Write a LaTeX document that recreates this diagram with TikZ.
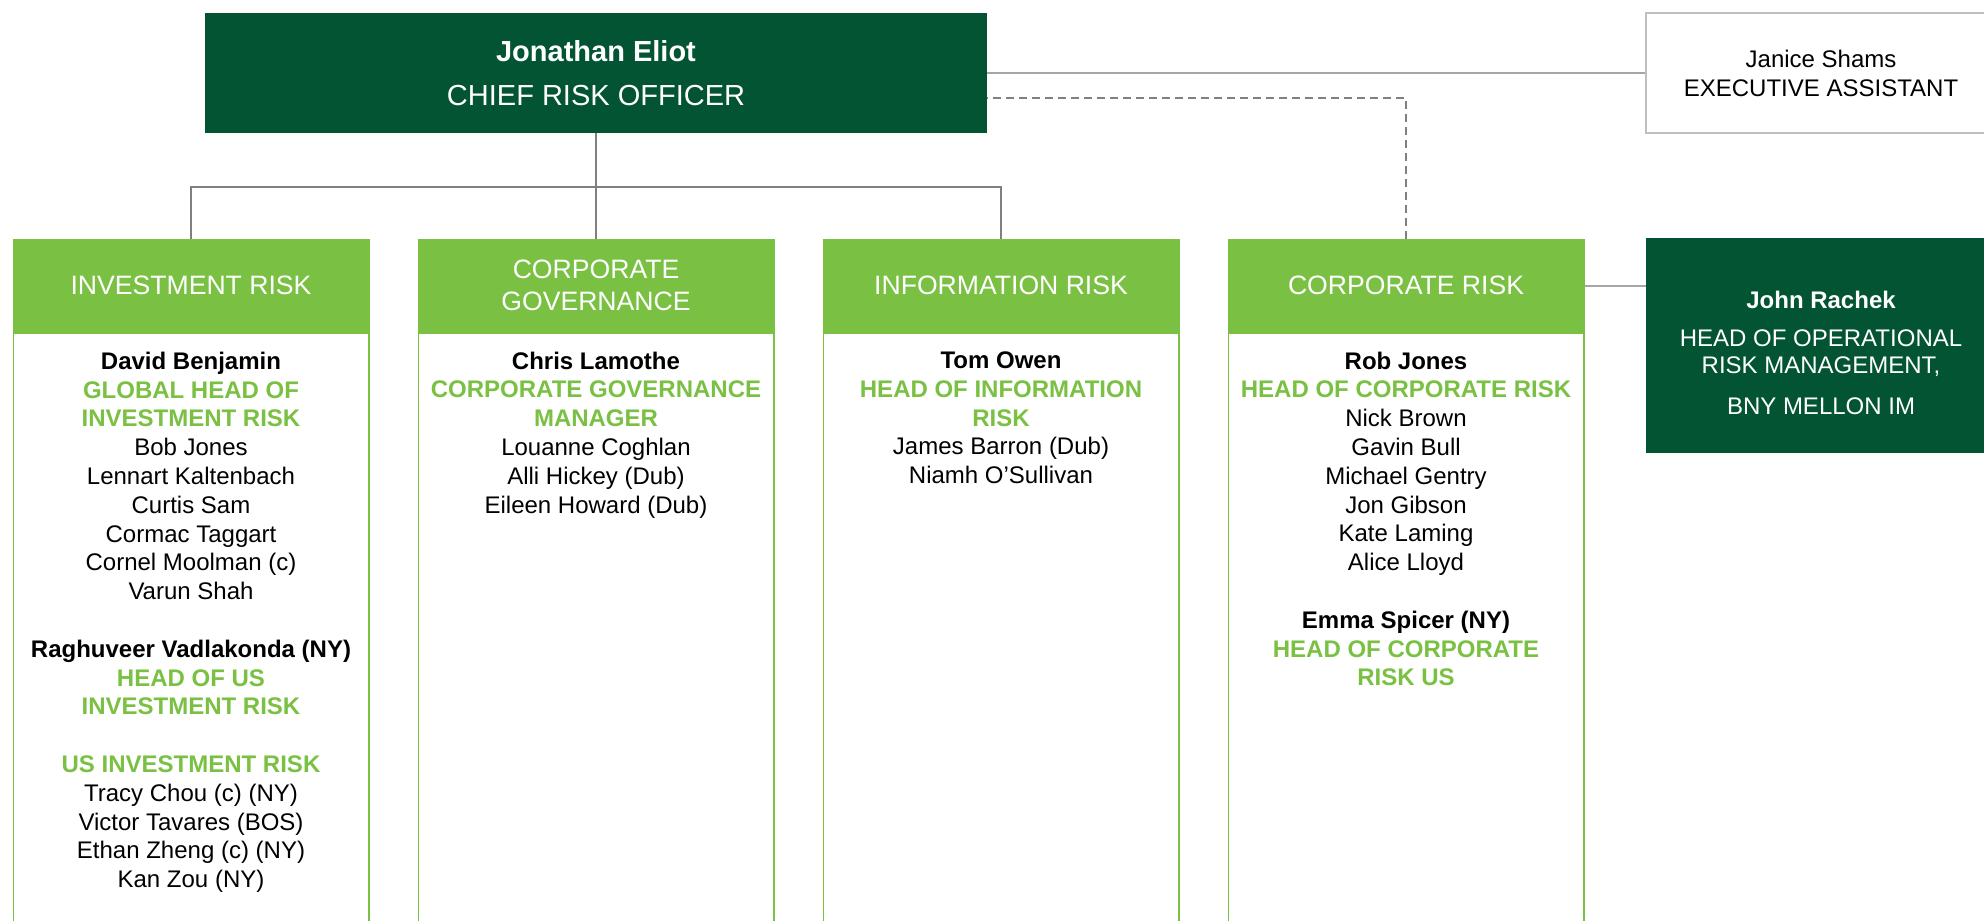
\documentclass[tikz,border=0pt]{standalone}
\usepackage{fontspec}
\setmainfont{Liberation Sans}
\usetikzlibrary{positioning}

\definecolor{darkgreen}{RGB}{2,84,51}
\definecolor{lightgreen}{RGB}{122,193,67}
\definecolor{linegray}{RGB}{128,128,128}
\definecolor{palegray}{RGB}{166,166,166}
\definecolor{boxgray}{RGB}{191,191,191}

\newcommand{\who}[1]{\textbf{#1}}
\newcommand{\roletxt}[1]{{\color{lightgreen}\bfseries #1}}

\begin{document}
\begin{tikzpicture}[x=0.5pt, y=-0.5pt,
    boss/.style={fill=darkgreen, text=white, align=center, inner sep=0pt,
      minimum width=391pt, minimum height=60pt},
    aide/.style={draw=boxgray, line width=1pt, fill=white, align=center, inner sep=0pt,
      minimum width=175pt, minimum height=60pt, font=\fontsize{12}{14.5}\selectfont},
    dept/.style={fill=lightgreen, text=white, align=center, inner sep=0pt,
      minimum width=178.5pt, minimum height=46.5pt, font=\fontsize{13.3}{16}\selectfont},
    col/.style={draw=lightgreen, line width=0.8pt, fill=white, inner sep=0pt,
      minimum width=177.7pt, minimum height=300pt},
    staff/.style={align=center, inner sep=0pt, font=\fontsize{12}{14.4}\selectfont},
    link/.style={draw=linegray, line width=1.2pt},
    side/.style={draw=palegray, line width=1pt}]

      \useasboundingbox (0,0) rectangle (1984,920);

      % top row
      \node[boss, font=\fontsize{14.5}{22}\selectfont] at (596,73) (cro)
        {\textbf{Jonathan Eliot}\\CHIEF RISK OFFICER};
      \node[aide] at (1821,73) (jan) {Janice Shams\\EXECUTIVE ASSISTANT};

      % department headers
      \node[dept] at ( 191,285.5) (inv)  {INVESTMENT RISK};
      \node[dept] at ( 596,285.5) (gov)  {CORPORATE\\GOVERNANCE};
      \node[dept] at (1001,285.5) (info) {INFORMATION RISK};
      \node[dept] at (1406,285.5) (corp) {CORPORATE RISK};

      \node[boss, minimum width=175pt, minimum height=107.5pt] at (1821,345.5) (john) {};
      \node[boss, minimum width=0pt, minimum height=0pt, fill=none,
        font=\fontsize{12}{13.5}\selectfont] at ([yshift=-3.5pt]john.center) (johntxt)
        {\bfseries John Rachek\\[5.5pt]
         HEAD OF OPERATIONAL\\RISK MANAGEMENT,\\[7pt]
         BNY MELLON IM};

      % columns under the headers
      \node[col, below=0pt of inv]  (invbody)  {};
      \node[col, below=0pt of gov]  (govbody)  {};
      \node[col, below=0pt of info] (infobody) {};
      \node[col, below=0pt of corp] (corpbody) {};
      \node[dept] at (inv)  {INVESTMENT RISK};
      \node[dept] at (gov)  {CORPORATE\\GOVERNANCE};
      \node[dept] at (info) {INFORMATION RISK};
      \node[dept] at (corp) {CORPORATE RISK};

      \node[staff, below=9.5pt of inv] (invstaff)
        {\who{David Benjamin}\\
         \roletxt{GLOBAL HEAD OF}\\
         \roletxt{INVESTMENT RISK}\\
         Bob Jones\\
         Lennart Kaltenbach\\
         Curtis Sam\\
         Cormac Taggart\\
         Cornel Moolman (c)\\
         Varun Shah\\[14.4pt]
         \who{Raghuveer Vadlakonda (NY)}\\
         \roletxt{HEAD OF US}\\
         \roletxt{INVESTMENT RISK}\\[14.4pt]
         \roletxt{US INVESTMENT RISK}\\
         Tracy Chou (c) (NY)\\
         Victor Tavares (BOS)\\
         Ethan Zheng (c) (NY)\\
         Kan Zou (NY)};
      \node[staff, below=9.5pt of gov] (govstaff)
        {\who{Chris Lamothe}\\
         \roletxt{CORPORATE GOVERNANCE}\\
         \roletxt{MANAGER}\\
         Louanne Coghlan\\
         Alli Hickey (Dub)\\
         Eileen Howard (Dub)};
      \node[staff, below=9.5pt of info] (infostaff)
        {\who{Tom Owen}\\
         \roletxt{HEAD OF INFORMATION}\\
         \roletxt{RISK}\\
         James Barron (Dub)\\
         Niamh O’Sullivan};
      \node[staff, below=9.5pt of corp] (corpstaff)
        {\who{Rob Jones}\\
         \roletxt{HEAD OF CORPORATE RISK}\\
         Nick Brown\\
         Gavin Bull\\
         Michael Gentry\\
         Jon Gibson\\
         Kate Laming\\
         Alice Lloyd\\[14.4pt]
         \who{Emma Spicer (NY)}\\
         \roletxt{HEAD OF CORPORATE}\\
         \roletxt{RISK US}};

      % reporting lines
      \coordinate (bar) at (596,187);
      \draw[link] (cro.south) -- (gov.north);
      \draw[link] (inv.north) |- (bar) -| (info.north);
      \draw[link, dash pattern=on 4pt off 2.5pt, line width=1pt]
        (corp.north) |- ([yshift=-12.5pt]cro.east);
      \draw[side] (cro.east) -- (jan.west);
      \draw[side] (corp.east) -- (corp.east -| john.west);
    \end{tikzpicture}
\end{document}
